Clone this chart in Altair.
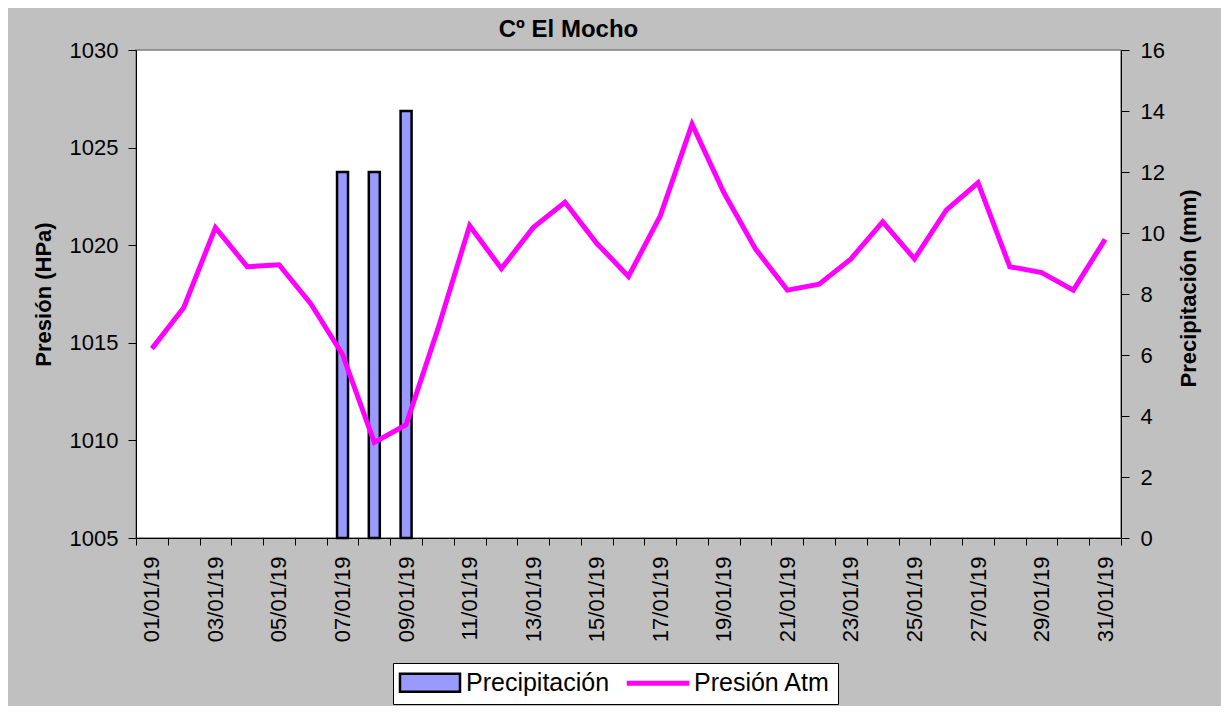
import altair as alt
import pandas as pd

fechas = ["01/01/19", "02/01/19", "03/01/19", "04/01/19", "05/01/19", "06/01/19",
          "07/01/19", "08/01/19", "09/01/19", "10/01/19", "11/01/19", "12/01/19",
          "13/01/19", "14/01/19", "15/01/19", "16/01/19", "17/01/19", "18/01/19",
          "19/01/19", "20/01/19", "21/01/19", "22/01/19", "23/01/19", "24/01/19",
          "25/01/19", "26/01/19", "27/01/19", "28/01/19", "29/01/19", "30/01/19",
          "31/01/19"]

presion = [1014.7, 1016.8, 1020.9, 1018.9, 1019.0, 1017.0, 1014.4, 1009.9,
           1010.8, 1015.7, 1021.0, 1018.8, 1020.9, 1022.2, 1020.1, 1018.4,
           1021.5, 1026.2, 1022.7, 1019.8, 1017.7, 1018.0, 1019.3, 1021.2,
           1019.3, 1021.8, 1023.2, 1018.9, 1018.6, 1017.7, 1020.3]

precip = [0, 0, 0, 0, 0, 0, 12, 12, 14, 0, 0, 0, 0, 0, 0, 0,
          0, 0, 0, 0, 0, 0, 0, 0, 0, 0, 0, 0, 0, 0, 0]

series = ["Precipitación", "Presión Atm"]
colores = ["#9999FF", "#FF00FF"]
ticks_presion = [1005, 1010, 1015, 1020, 1025, 1030]
ticks_precip = [0, 2, 4, 6, 8, 10, 12, 14, 16]

FONT = "Liberation Sans"

df_bar = pd.DataFrame({"fecha": fechas, "valor": precip, "serie": series[0]})
df_line = pd.DataFrame({"fecha": fechas, "valor": presion, "serie": series[1]})

x_enc = alt.X(
    "fecha:O",
    sort=fechas,
    scale=alt.Scale(paddingInner=0, paddingOuter=0),
    title=None,
    axis=alt.Axis(
        labelAngle=270,
        tickBand="extent",
        labelExpr="toNumber(substring(datum.label,0,2)) % 2 == 1 ? datum.label : ''",
        labelOverlap=False,
        labelFont=FONT,
        labelFontSize=22,
        labelColor="black",
        labelPadding=11,
        tickSize=7,
        tickColor="black",
        domainColor="black",
        grid=False,
    ),
)

is_line = "datum.value === 'Presión Atm'"
legend = alt.Legend(
    title=None,
    orient="none",
    legendX=257,
    legendY=613,
    direction="horizontal",
    fillColor="white",
    strokeColor="black",
    padding=7,
    symbolSize=400,
    symbolStrokeWidth=2.5,
    symbolOpacity=1,
    labelOffset=41,
    columnPadding=13,
    labelFont=FONT,
    labelFontSize=25,
    labelColor="black",
    symbolType={"expr": f"{is_line} ? 'M-1.25,-0.12H4.75V0.12H-1.25Z' : 'M-1.25,-0.9H4.75V0.9H-1.25Z'"},
    symbolStrokeColor={"expr": f"{is_line} ? '#FF00FF' : 'black'"},
)

color_scale = alt.Scale(domain=series, range=colores)

bars = alt.Chart(df_bar).transform_filter("datum.valor > 0").mark_bar(
    size=11, stroke="black", strokeWidth=2.5
).encode(
    x=x_enc,
    y=alt.Y(
        "valor:Q",
        scale=alt.Scale(domain=[0, 16], nice=False),
        axis=alt.Axis(
            orient="right",
            values=ticks_precip,
            format="d",
            title="Precipitación (mm)",
            titleFont=FONT,
            titleFontSize=22,
            titleFontWeight="bold",
            titleColor="black",
            titleAngle=270,
            titleX=67,
            titleY=238,
            titleAlign="center",
            titleBaseline="middle",
            labelFont=FONT,
            labelFontSize=22,
            labelColor="black",
            labelPadding=11,
            tickSize=8,
            tickColor="black",
            domainColor="black",
            grid=False,
        ),
    ),
    color=alt.Color("serie:N", scale=color_scale, legend=legend),
)

line = alt.Chart(df_line).mark_line(strokeWidth=5, color=colores[1]).encode(
    x=x_enc,
    y=alt.Y(
        "valor:Q",
        scale=alt.Scale(domain=[1005, 1030], nice=False, zero=False),
        axis=alt.Axis(
            orient="left",
            values=ticks_presion,
            format="d",
            title="Presión (HPa)",
            titleFont=FONT,
            titleFontSize=22,
            titleFontWeight="bold",
            titleColor="black",
            titleAngle=270,
            titleX=-93,
            titleY=244,
            titleAlign="center",
            titleBaseline="middle",
            labelFont=FONT,
            labelFontSize=22,
            labelColor="black",
            labelPadding=10,
            tickSize=8,
            tickColor="black",
            domainColor="black",
            grid=False,
        ),
    ),
)

chart = alt.layer(bars, line).resolve_scale(y="independent").properties(
    width=985,
    height=488,
    padding={"left": 128, "top": 42, "right": 100, "bottom": 168},
    autosize=alt.AutoSizeParams(type="none"),
    title=alt.TitleParams(
        "Cº El Mocho",
        font=FONT,
        fontSize=24,
        fontWeight="bold",
        color="black",
        anchor="middle",
        frame="group",
        dx=-60,
        dy=24,
        offset=2,
        baseline="alphabetic",
    ),
).configure(background="#C0C0C0").configure_view(
    fill="white", stroke="#808080", strokeWidth=1.5
)

chart.save("out.html", embed_options={"renderer": "svg", "actions": False})
